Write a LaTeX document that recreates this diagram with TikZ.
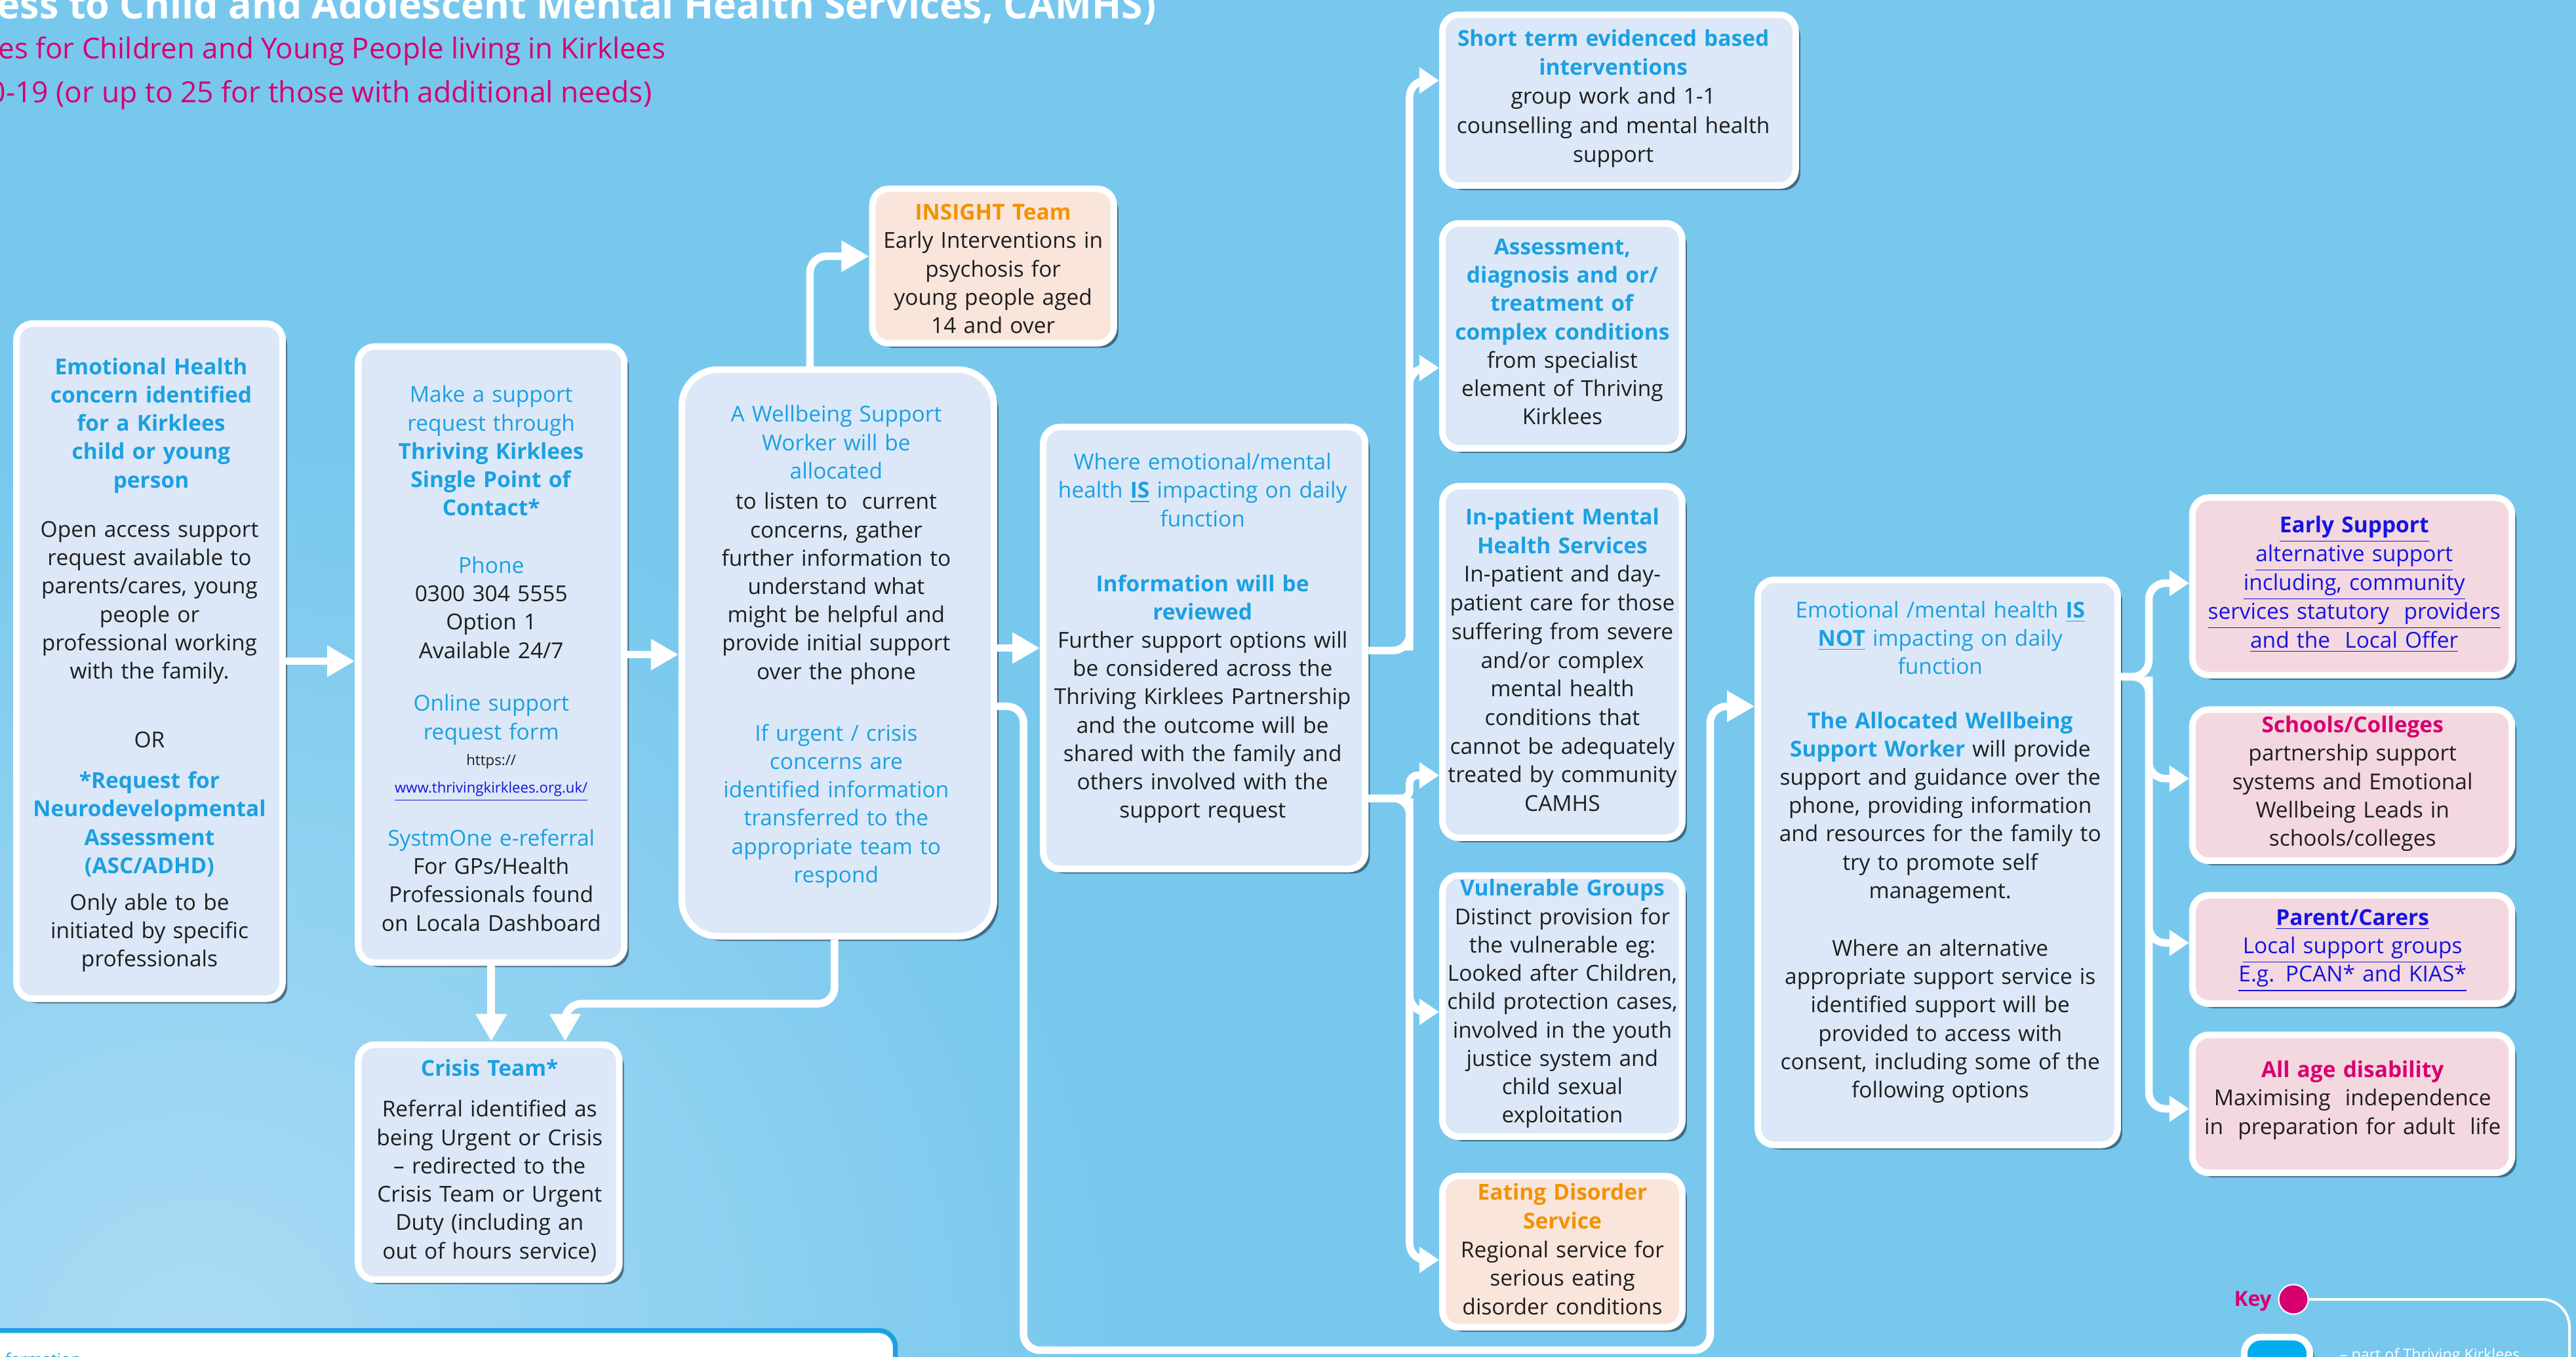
\documentclass[tikz,border=0pt]{standalone}
\usepackage{fontspec}
\setmainfont{Open Sans}
\usetikzlibrary{arrows.meta,shadows}
\definecolor{bg}{RGB}{120,200,238}
\definecolor{bglight}{RGB}{172,220,244}
\definecolor{boxfill}{RGB}{220,232,247}
\definecolor{peach}{RGB}{250,229,219}
\definecolor{pinkfill}{RGB}{244,216,224}
\definecolor{headblue}{RGB}{27,160,226}
\definecolor{orangeh}{RGB}{243,146,0}
\definecolor{magentah}{RGB}{214,0,111}
\definecolor{linkblue}{RGB}{20,20,225}
\definecolor{darktext}{RGB}{30,30,30}
\definecolor{shadowc}{RGB}{30,50,70}
\definecolor{keyblue}{RGB}{0,174,239}
\newcommand\bodyf{\fontsize{9.5pt}{12.27pt}\selectfont}
\newcommand\hb[1]{\textcolor{headblue}{\textbf{#1}}}
\newcommand\hn[1]{\textcolor{headblue}{#1}}
\newcommand\ob[1]{\textcolor{orangeh}{\textbf{#1}}}
\newcommand\mb[1]{\textcolor{magentah}{\textbf{#1}}}
\newcommand\lk[1]{\underline{#1}}
\begin{document}
\begin{tikzpicture}[x=0.025cm,y=-0.025cm,
  pbox/.style={draw=white, line width=0.1cm, fill=boxfill, rounded corners=0.25cm, inner sep=0,
    drop shadow={shadow xshift=0.07cm, shadow yshift=-0.07cm, opacity=0.6, fill=shadowc}},
  sz/.style 2 args={minimum width=#1*0.025cm, minimum height=#2*0.025cm},
  tx/.style={anchor=base, align=center, text width=9cm, inner sep=0, font=\bodyf, text=darktext},
  conn/.style={draw=white, line width=0.115cm, rounded corners=0.25cm},
  big/.style={-{Triangle[length=0.42cm,width=0.45cm]}},
  sml/.style={-{Triangle[length=0.3cm,width=0.38cm]}}
]
\useasboundingbox (0,0) rectangle (1568,826);
\begin{scope}
\clip (0,0) rectangle (1568,826);
\fill[bg] (0,0) rectangle (1568,826);
\shade[inner color=bglight, outer color=bg] (120,830) circle (560);

% title
\node[anchor=base east, inner sep=0, text=white, font=\bfseries\fontsize{16.8pt}{19pt}\selectfont] (title) at (704,11.5) {ess to Child and Adolescent Mental Health Services, CAMHS)};
\node[anchor=base east, inner sep=0, text=magentah, font=\fontsize{12.45pt}{14pt}\selectfont] (sub1) at (405.5,35.7) {es for Children and Young People living in Kirklees};
\node[anchor=base east, inner sep=0, text=magentah, font=\fontsize{12.6pt}{14pt}\selectfont] (sub2) at (397,62.5) {0-19 (or up to 25 for those with additional needs)};

% boxes
\node[pbox, sz={162}{411}] (A) at (91,402.5) {};
\node[pbox, sz={162}{375}] (B) at (299,398.5) {};
\node[pbox, sz={190}{345}, rounded corners=0.55cm] (C) at (510,397.5) {};
\node[pbox, sz={147}{94}, fill=peach] (D) at (604.5,162) {};
\node[pbox, sz={196}{269}] (E) at (733,394.5) {};
\node[pbox, sz={159}{143}] (F) at (297.5,707.5) {};
\node[pbox, sz={215}{104}] (G) at (985.5,61) {};
\node[pbox, sz={146}{137}] (H) at (951,204.5) {};
\node[pbox, sz={146}{214}] (I) at (951,403) {};
\node[pbox, sz={146}{159}] (J) at (951,612.5) {};
\node[pbox, sz={146}{92}, fill=peach] (K) at (951,762) {};
\node[pbox, sz={219}{344}] (L) at (1179.5,525) {};
\node[pbox, sz={194.5}{108}, fill=pinkfill] (M) at (1431.75,357) {};
\node[pbox, sz={194.5}{92}, fill=pinkfill] (N) at (1431.75,478) {};
\node[pbox, sz={194.5}{66}, fill=pinkfill] (O) at (1431.75,578) {};
\node[pbox, sz={194.5}{84}, fill=pinkfill] (P) at (1431.75,672) {};

% connectors
\draw[conn,big] (A.east) -- (A.east -| B.west);
\draw[conn,big] (B.east) -- (B.east -| C.west);
\draw[conn,big] (C.east |- E.west) -- (E.west);
\coordinate (cd) at (493,156);
\draw[conn,big] (cd |- C.north) -- (cd) -- (cd -| D.west);
\draw[conn,big] (B.south) -- (B.south |- F.north);
\coordinate (cf1) at (508,611);
\coordinate (cf2) at (344,611);
\draw[conn,big] (cf1 |- C.south) -- (cf1) -- (cf2) -- (cf2 |- F.north);
\coordinate (cl1) at (623,430);
\coordinate (cl2) at (623,822);
\coordinate (cl3) at (1041,822);
\coordinate (cl4) at (1041,430);
\draw[conn,big] (C.east |- cl1) -- (cl1) -- (cl2) -- (cl3) -- (cl4) -- (cl4 -| L.west);
% upper bus
\coordinate (ub) at (858,396);
\coordinate (gy) at (858,49);
\coordinate (hy) at (858,224);
\draw[conn,sml] (E.east |- ub) -- (ub) -- (gy) -- (gy -| G.west);
\draw[conn,sml] (ub) -- (hy) -- (hy -| H.west);
% lower bus
\coordinate (lb) at (858,486);
\coordinate (iy) at (858,472);
\coordinate (jy) at (858,616);
\coordinate (ky) at (858,767);
\draw[conn,sml,rounded corners=0.12cm] (E.east |- lb) -- (lb) -- (iy) -- (iy -| I.west);
\draw[conn,sml] (E.east |- lb) -- (lb) -- (ky) -- (ky -| K.west);
\draw[conn,sml] (lb) -- (jy) -- (jy -| J.west);
% right bus
\coordinate (rb) at (1308,412);
\coordinate (my) at (1308,355);
\coordinate (ny) at (1308,474);
\coordinate (oy) at (1308,574);
\coordinate (py) at (1308,675);
\draw[conn,sml] (L.east |- rb) -- (rb) -- (my) -- (my -| M.west);
\draw[conn,sml] (L.east |- rb) -- (rb) -- (py) -- (py -| P.west);
\draw[conn,sml] (rb) -- (ny) -- (ny -| N.west);
\draw[conn,sml] (rb) -- (oy) -- (oy -| O.west);

% texts A
\node[tx] (A1) at (92,228) {\hb{Emotional Health\\concern identified\\for a Kirklees\\child or young\\person}};
\node[tx] (A2) at (91,327) {Open access support\\request available to\\parents/cares, young\\people or\\professional working\\with the family.};
\node[tx] (A3) at (91,455) {OR};
\node[tx] (A4) at (91,480) {\hb{*Request for\\Neurodevelopmental\\Assessment\\(ASC/ADHD)}};
\node[tx] (A5) at (91,554) {Only able to be\\initiated by specific\\professionals};
% B
\node[tx] (B1) at (299,245) {\hn{Make a support}\\\hn{request through}\\\hb{Thriving Kirklees}\\\hb{Single Point of}\\\hb{Contact*}};
\node[tx] (B2) at (299,349) {\hn{Phone}\\0300 304 5555\\Option 1\\Available 24/7};
\node[tx] (B3) at (299,433) {\hn{Online support}\\\hn{request form}};
\node[tx, font=\fontsize{6.3pt}{12.0pt}\selectfont] (B4) at (299,466) {https://\\\textcolor{linkblue}{\lk{www.thrivingkirklees.org.uk/}}};
\node[tx] (B5) at (299,515) {\hn{SystmOne e-referral}\\For GPs/Health\\Professionals found\\on Locala Dashboard};
% C
\node[tx] (C1) at (509,257) {\hn{A Wellbeing Support}\\\hn{Worker will be}\\\hn{allocated}};
\node[tx] (C2) at (509,310) {to listen to\ \ current\\concerns, gather\\further information to\\understand what\\might be helpful and\\provide initial support\\over the phone};
\node[tx] (C3) at (509,451) {\hn{If urgent / crisis}\\\hn{concerns are}\\\hn{identified information}\\\hn{transferred to the}\\\hn{appropriate team to}\\\hn{respond}};
% D
\node[tx] (D1) at (604.5,134) {\ob{INSIGHT Team}\\Early Interventions in\\psychosis for\\young people aged\\14 and over};
% E
\node[tx] (E1) at (732,286) {\hn{Where emotional/mental}\\\hn{health \lk{\textbf{IS}} impacting on daily}\\\hn{function}};
\node[tx] (E2) at (732,360) {\hb{Information will be}\\\hb{reviewed}\\Further support options will\\be considered across the\\Thriving Kirklees Partnership\\and the outcome will be\\shared with the family and\\others involved with the\\support request};
% F
\node[tx] (F1) at (298,655) {\hb{Crisis Team*}};
\node[tx] (F2) at (298,680) {Referral identified as\\being Urgent or Crisis\\– redirected to the\\Crisis Team or Urgent\\Duty (including an\\out of hours service)};
% G..K
\node[tx, font=\fontsize{9.5pt}{12.6pt}\selectfont] (G1) at (982,28) {\hb{Short term evidenced based}\\\hb{interventions}\\group work and 1-1\\counselling and mental health\\support};
\node[tx] (H1) at (951,155) {\hb{Assessment,}\\\hb{diagnosis and or/}\\\hb{treatment of}\\\hb{complex conditions}\\from specialist\\element of Thriving\\Kirklees};
\node[tx, font=\fontsize{9.5pt}{12.4pt}\selectfont] (I1) at (951,319.5) {\hb{In-patient Mental}\\\hb{Health Services}\\In-patient and day-\\patient care for those\\suffering from severe\\and/or complex\\mental health\\conditions that\\cannot be adequately\\treated by community\\CAMHS};
\node[tx] (J1) at (951,545.5) {\hb{Vulnerable Groups}\\Distinct provision for\\the vulnerable eg:\\Looked after Children,\\child protection cases,\\involved in the youth\\justice system and\\child sexual\\exploitation};
\node[tx, font=\fontsize{9.5pt}{12.4pt}\selectfont] (K1) at (951,730.6) {\ob{Eating Disorder}\\\ob{Service}\\Regional service for\\serious eating\\disorder conditions};
% L
\node[tx] (L1) at (1181,376) {\hn{Emotional /mental health \lk{\textbf{IS}}}\\\hn{\lk{\textbf{NOT}} impacting on daily}\\\hn{function}};
\node[tx] (L2) at (1181,443.4) {\hb{The Allocated Wellbeing}\\\hb{Support Worker} will provide\\support and guidance over the\\phone, providing information\\and resources for the family to\\try to promote self\\management.};
\node[tx] (L3) at (1181,582) {Where an alternative\\appropriate support service is\\identified support will be\\provided to access with\\consent, including some of the\\following options};
% M..P
\node[tx, text=linkblue, font=\fontsize{9.5pt}{12.5pt}\selectfont] (M1) at (1433,324.2) {\lk{\textbf{Early Support}}\\\lk{alternative support}\\\lk{including, community}\\\lk{services statutory\ \ providers}\\\lk{and the\ \ Local Offer}};
\node[tx] (N1) at (1432,446) {\mb{Schools/Colleges}\\partnership support\\systems and Emotional\\Wellbeing Leads in\\schools/colleges};
\node[tx, text=linkblue] (O1) at (1432,563.3) {\lk{\textbf{Parent/Carers}}\\\lk{Local support groups}\\\lk{E.g. PCAN* and KIAS*}};
\node[tx] (P1) at (1432,656) {\mb{All age disability}\\Maximising\ \ independence\\in\ \ preparation for adult\ \ life};

% bottom-left panel
\node[draw=headblue, fill=white, line width=0.075cm, rounded corners=0.25cm, inner sep=0, sz={565}{50}] (info) at (262.5,835) {};
\node[anchor=base west, inner sep=0, text=headblue, font=\fontsize{7pt}{8pt}\selectfont] (infotxt) at (3,831) {formation};

% key
\node[circle, fill=magentah, draw=white, line width=0.6pt, minimum size=0.45cm, inner sep=0] (keydot) at (1396,791) {};
\node[anchor=base east, inner sep=0, text=magentah, font=\bfseries\fontsize{9pt}{10pt}\selectfont] (keylbl) at (1383,795) {Key};
\coordinate (keyc) at (1564,791);
\coordinate (keyd) at (1564,840);
\draw[white, line width=0.04cm, rounded corners=0.42cm] (keydot.east) -- (keyc) -- (keyd);
\node[pbox, fill=keyblue, sz={40}{40}] (keysq) at (1386,834) {};
\node[anchor=base west, inner sep=0, text=white, font=\fontsize{6.6pt}{7pt}\selectfont] (keytxt) at (1424,828) {– part of Thriving Kirklees};
\end{scope}
\end{tikzpicture}
\end{document}
